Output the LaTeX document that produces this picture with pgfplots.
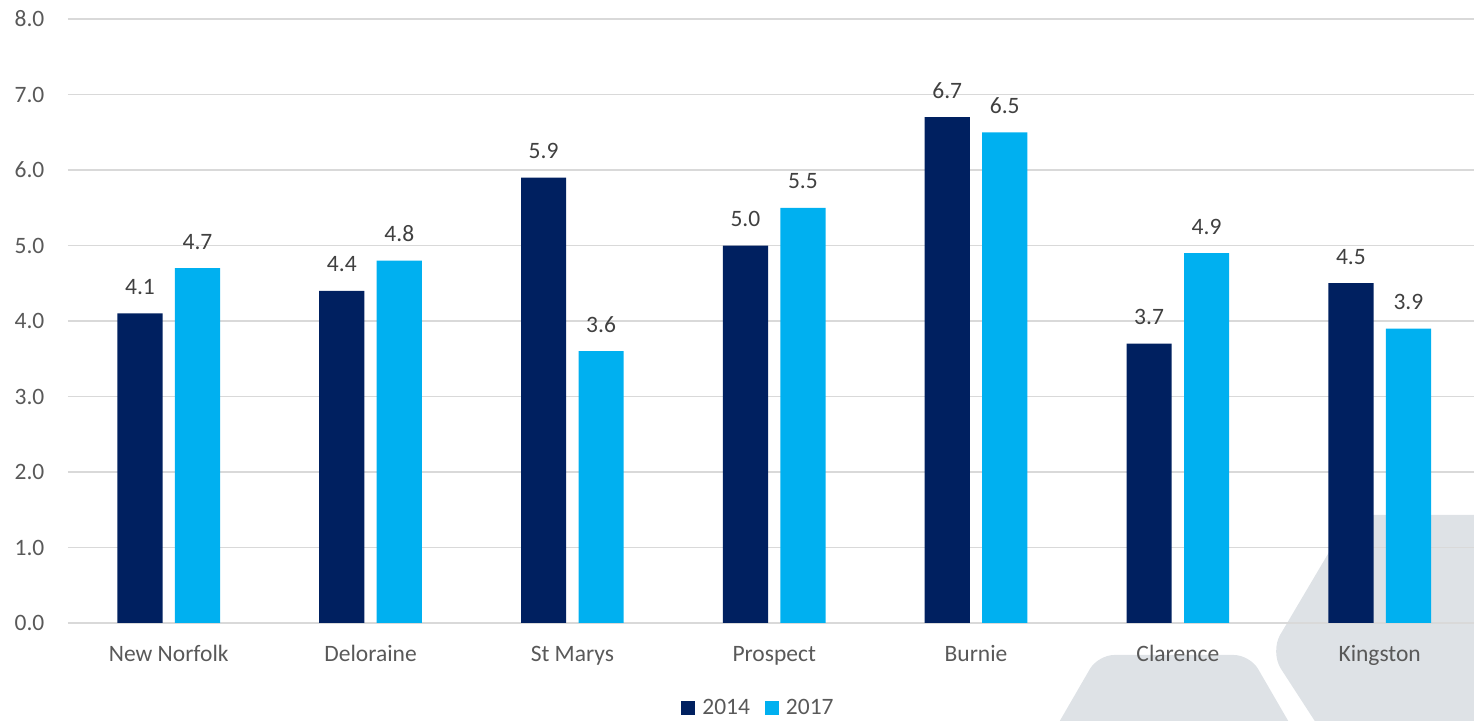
\documentclass[border=0pt]{standalone}
\usepackage{fontspec}
\setmainfont{Carlito}
\usepackage{pgfplots}
\pgfplotsset{compat=1.18}

\definecolor{navy}{RGB}{0,32,96}
\definecolor{sky}{RGB}{0,176,240}
\definecolor{gridgrey}{RGB}{217,217,217}
\definecolor{labelgrey}{RGB}{89,89,89}
\definecolor{valuegrey}{RGB}{64,64,64}
\definecolor{shapegrey}{RGB}{222,226,230}

\begin{document}
\begin{tikzpicture}[font=\fontsize{11.75}{14}\selectfont]
% background hexagon shapes (units of half a point)
\begin{scope}[x=0.5pt,y=0.5pt]
  \fill[shapegrey, rounded corners=8pt]
    (1098,66) -- (1250,66) -- (1334,-79) -- (1014,-79) -- cycle;
  \fill[shapegrey, rounded corners=10pt]
    (1351,206) -- (1600,206) -- (1600,-79) -- (1366,-79) -- (1270,69) -- cycle;
\end{scope}

\begin{axis}[
  at={(33.9pt,49pt)}, anchor=south west,
  scale only axis, width=706.4pt, height=302pt,
  xmin=-0.5, xmax=6.5, ymin=0, ymax=8,
  ybar, bar width=22.6pt,
  xtick={0,...,6},
  xticklabels={New Norfolk,Deloraine,St Marys,Prospect,Burnie,Clarence,Kingston},
  ytick={0,...,8},
  major tick length=0pt,
  axis line style={draw=none},
  ymajorgrids, grid style={gridgrey, line width=0.8pt},
  /pgf/number format/assume math mode=true,
  yticklabel style={/pgf/number format/.cd, fixed, fixed zerofill, precision=1,
    /tikz/.cd, anchor=east, inner sep=0pt, xshift=-11.5pt, text=labelgrey},
  xticklabel style={anchor=base, inner sep=0pt, yshift=-19.35pt, text=labelgrey},
  nodes near coords={\pgfmathprintnumber[fixed, fixed zerofill, precision=1]{\pgfplotspointmeta}},
  every node near coord/.append style={anchor=base, inner sep=0pt, yshift=9.5pt, text=valuegrey},
  clip=false,
  legend columns=2,
  legend style={at={(axis description cs:0.4896,-0.1407)}, anchor=center,
    draw=none, fill=none, text=labelgrey, font=\fontsize{11.75}{14}\selectfont,
    /tikz/every odd column/.append style={column sep=1.5pt},
    /tikz/every even column/.append style={column sep=5.5pt}},
]
\addplot[fill=navy, draw=none, bar shift=-14.375pt,
  legend image code/.code={\fill[navy] (0pt,-3.5pt) rectangle (7pt,3.5pt);}]
  coordinates {(0,4.1) (1,4.4) (2,5.9) (3,5.0) (4,6.7) (5,3.7) (6,4.5)};
\addplot[fill=sky, draw=none, bar shift=14.375pt,
  legend image code/.code={\fill[sky] (0pt,-3.5pt) rectangle (7pt,3.5pt);}]
  coordinates {(0,4.7) (1,4.8) (2,3.6) (3,5.5) (4,6.5) (5,4.9) (6,3.9)};
\legend{2014,2017}
\end{axis}

% page frame (units of half a point)
\pgfresetboundingbox
\path[use as bounding box] (0,0) rectangle (737pt,360.5pt);
\end{tikzpicture}
\end{document}
